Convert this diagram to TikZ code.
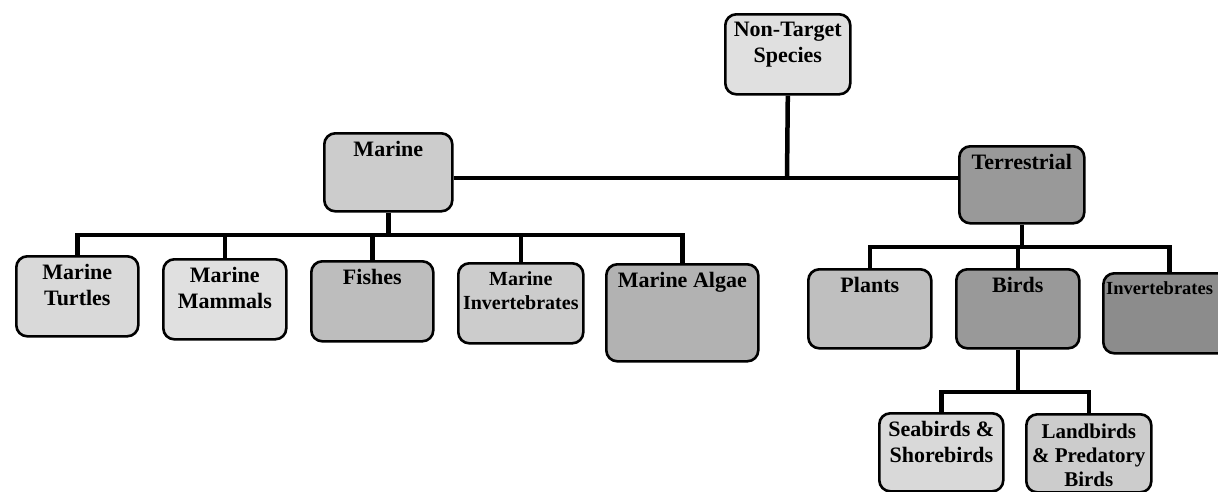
\documentclass[tikz,border=0pt]{standalone}
\usepackage{fontspec}
\setmainfont{Liberation Serif}
\begin{document}
\begin{tikzpicture}[x=1pt,y=-1pt,
  box/.style={draw, line width=2.6pt, rounded corners=11pt, inner sep=0pt, anchor=north west},
  lbl/.style={font=\bfseries\fontsize{22}{26}\selectfont, align=center, anchor=north, inner sep=0pt, yshift=-9pt},
  wire/.style={line width=4.5pt}]
\useasboundingbox (0,0) rectangle (1218,491);
% boxes
\node[box, fill=black!12, minimum width=125pt, minimum height=80pt] (nt) at (724,13) {};
\node[box, fill=black!20, minimum width=128pt, minimum height=78pt] (m) at (323,132) {};
\node[box, fill=black!40, minimum width=125pt, minimum height=77pt] (t) at (958,145) {};
\node[box, fill=black!15, minimum width=122pt, minimum height=80pt] (mt) at (15,255) {};
\node[box, fill=black!12, minimum width=123pt, minimum height=80pt] (mm) at (162,258) {};
\node[box, fill=black!26, minimum width=122pt, minimum height=80pt] (f) at (310,260) {};
\node[box, fill=black!20, minimum width=125pt, minimum height=80pt] (mi) at (457,262) {};
\node[box, fill=black!30, minimum width=152pt, minimum height=97pt] (ma) at (605,263) {};
\node[box, fill=black!25, minimum width=123pt, minimum height=79pt] (p) at (807,268) {};
\node[box, fill=black!40, minimum width=123pt, minimum height=79pt] (b) at (955,268) {};
\node[box, fill=black!45, minimum width=132pt, minimum height=80pt] (iv) at (1102,272) {};
\node[box, fill=black!15, minimum width=124pt, minimum height=78pt] (sb) at (878,412) {};
\node[box, fill=black!20, minimum width=125pt, minimum height=78pt] (lb) at (1025,413) {};
% labels
\node[lbl] (ntl) at (nt.north) {Non-Target\\Species};
\node[lbl] (ml) at (m.north) {Marine};
\node[lbl] (tl) at (t.north) {Terrestrial};
\node[lbl] (mtl) at (mt.north) {Marine\\Turtles};
\node[lbl] (mml) at (mm.north) {Marine\\Mammals};
\node[lbl] (fl) at (f.north) {Fishes};
\node[lbl, font=\bfseries\fontsize{20}{24}\selectfont] (mil) at (mi.north) {Marine\\Invertebrates};
\node[lbl] (mal) at (ma.north) {Marine Algae};
\node[lbl] (pl) at (p.north) {Plants};
\node[lbl] (bl) at (b.north) {Birds};
\node[lbl, anchor=north west, xshift=4pt, font=\bfseries\fontsize{18.5}{24}\selectfont] (ivl) at (iv.north west) {Invertebrates};
\node[lbl] (sbl) at (sb.north) {Seabirds \&\\Shorebirds};
\node[lbl, yshift=-2pt, font=\bfseries\fontsize{21}{24}\selectfont] (lbl1) at (lb.north) {Landbirds\\\& Predatory\\Birds};
% junctions
\coordinate (j1) at (787,178);
\coordinate (j2) at (0,235);
\coordinate (j3) at (0,247);
\coordinate (j4) at (0,392);
% connectors
\draw[wire] (nt.south) -- (j1);
\draw[wire] (m.east |- j1) -- (t.west |- j1);
\draw[wire] (m.south) -- (m.south |- j2);
\draw[wire] (mt.north) -- (mt.north |- j2) -- (ma.north |- j2) -- (ma.north);
\draw[wire] (mm.north) -- (mm.north |- j2);
\draw[wire] (f.north) -- (f.north |- j2);
\draw[wire] (mi.north) -- (mi.north |- j2);
\draw[wire] (t.south) -- (t.south |- j3);
\draw[wire] (p.north) -- (p.north |- j3) -- (iv.north |- j3) -- (iv.north);
\draw[wire] (b.north) -- (b.north |- j3);
\draw[wire] (b.south) -- (b.south |- j4);
\draw[wire] (sb.north) -- (sb.north |- j4) -- (lb.north |- j4) -- (lb.north);
\end{tikzpicture}
\end{document}
